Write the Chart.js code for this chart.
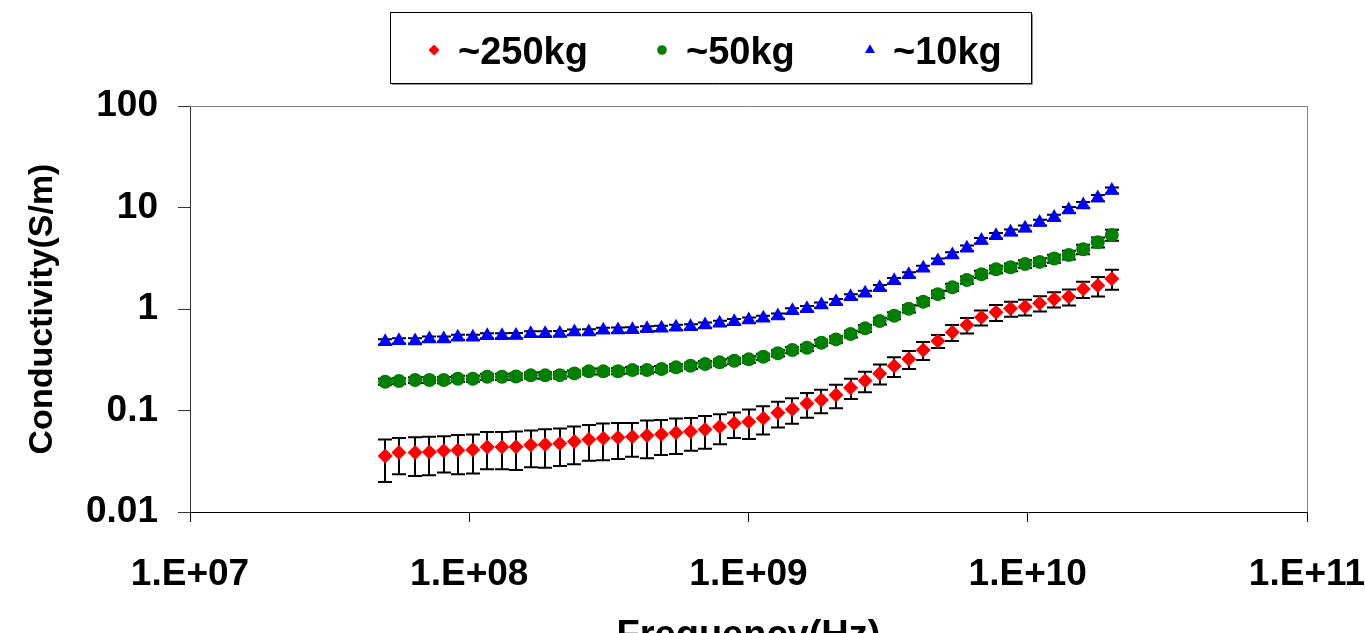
<!DOCTYPE html>
<html>
<head>
<meta charset="utf-8">
<title>Conductivity vs frequency</title>
<script src="https://cdn.jsdelivr.net/npm/chart.js@4.4.0/dist/chart.umd.min.js"></script>
<style>
  html, body { margin: 0; padding: 0; background: #fff; overflow: hidden; }
  #wrap { position: relative; width: 1365px; height: 680px; }
</style>
</head>
<body>
<div id="wrap"><canvas id="chart"></canvas></div>
<script>
// frequency sweep, MHz
const frequenciesMHz = [50, 56, 64, 72, 81, 91, 103, 116, 131, 147, 166, 187, 211, 238, 268, 302, 341,
  384, 433, 488, 550, 620, 699, 788, 889, 1002, 1130, 1274, 1436, 1619, 1825, 2058, 2320, 2616,
  2949, 3324, 3748, 4225, 4764, 5371, 6055, 6826, 7696, 8677, 9782, 11028, 12433, 14017, 15803,
  17817, 20000];

// ~250kg
const cond250 = [0.0357, 0.0386, 0.0386, 0.0390, 0.0401, 0.0405, 0.0410, 0.0438, 0.0438, 0.0440,
  0.0456, 0.0463, 0.0474, 0.0496, 0.0519, 0.0534, 0.0543, 0.0551, 0.0568, 0.0585, 0.0603, 0.0622,
  0.0651, 0.0691, 0.0747, 0.0774, 0.0840, 0.0949, 0.103, 0.117, 0.127, 0.142, 0.168, 0.196, 0.232,
  0.274, 0.321, 0.394, 0.483, 0.589, 0.695, 0.828, 0.927, 1.01, 1.05, 1.14, 1.25, 1.32, 1.57, 1.70, 1.99];
const sd250 = [0.016, 0.015, 0.016, 0.016, 0.0156, 0.017, 0.017, 0.0175, 0.0175, 0.018, 0.018, 0.019,
  0.019, 0.020, 0.020, 0.021, 0.021, 0.020, 0.023, 0.022, 0.023, 0.022, 0.023, 0.0225, 0.021, 0.025,
  0.026, 0.027, 0.029, 0.032, 0.033, 0.037, 0.038, 0.045, 0.052, 0.060, 0.064, 0.079, 0.070, 0.106,
  0.12, 0.14, 0.165, 0.17, 0.185, 0.195, 0.215, 0.235, 0.285, 0.37, 0.44];

// ~50kg
const cond50 = [0.192, 0.195, 0.1995, 0.1995, 0.200, 0.2055, 0.2055, 0.215, 0.215, 0.216, 0.222, 0.222,
  0.223, 0.232, 0.243, 0.243, 0.244, 0.250, 0.250, 0.256, 0.266, 0.276, 0.287, 0.298, 0.309, 0.319,
  0.339, 0.366, 0.394, 0.415, 0.465, 0.502, 0.567, 0.645, 0.762, 0.859, 1.007, 1.18, 1.40, 1.64, 1.93,
  2.20, 2.46, 2.58, 2.78, 2.91, 3.14, 3.41, 3.88, 4.55, 5.37];
const sd50 = [0.013, 0.013, 0.013, 0.013, 0.014, 0.014, 0.014, 0.015, 0.015, 0.015, 0.015, 0.016, 0.016,
  0.016, 0.017, 0.017, 0.017, 0.018, 0.018, 0.018, 0.019, 0.020, 0.020, 0.021, 0.022, 0.023, 0.024,
  0.026, 0.028, 0.030, 0.034, 0.037, 0.043, 0.050, 0.060, 0.068, 0.082, 0.097, 0.115, 0.135, 0.16,
  0.18, 0.21, 0.22, 0.24, 0.26, 0.29, 0.33, 0.42, 0.52, 0.66];

// ~10kg
const cond10 = [0.476, 0.487, 0.485, 0.506, 0.506, 0.526, 0.526, 0.546, 0.546, 0.548, 0.571, 0.571,
  0.573, 0.593, 0.595, 0.617, 0.621, 0.623, 0.640, 0.645, 0.660, 0.669, 0.695, 0.723, 0.750, 0.779,
  0.809, 0.853, 0.962, 1.007, 1.095, 1.18, 1.32, 1.43, 1.62, 1.90, 2.17, 2.52, 2.97, 3.41, 3.97, 4.72,
  5.28, 5.71, 6.25, 7.10, 7.95, 9.46, 10.6, 12.4, 14.7];
const sd10 = [0.028, 0.029, 0.029, 0.030, 0.030, 0.031, 0.031, 0.032, 0.032, 0.032, 0.034, 0.034,
  0.034, 0.035, 0.035, 0.037, 0.037, 0.037, 0.038, 0.038, 0.039, 0.040, 0.041, 0.043, 0.045, 0.047,
  0.049, 0.052, 0.058, 0.061, 0.066, 0.072, 0.080, 0.087, 0.099, 0.116, 0.13, 0.15, 0.18, 0.21, 0.25,
  0.30, 0.34, 0.37, 0.41, 0.47, 0.53, 0.64, 0.72, 0.85, 1.0];

const seriesLabels = ['~250kg', '~50kg', '~10kg'];
const xTickValues = [1e7, 1e8, 1e9, 1e10, 1e11];
const xTickLabels = ['1.E+07', '1.E+08', '1.E+09', '1.E+10', '1.E+11'];
const yTickValues = [0.01, 0.1, 1, 10, 100];
const yTickLabels = ['0.01', '0.1', '1', '10', '100'];

const FONT = "'Liberation Sans', Arial, sans-serif";

function toPoints(values) {
  return frequenciesMHz.map((f, i) => ({ x: f * 1e6, y: values[i] }));
}

const errorSets = [sd250, sd50, sd10];

// vertical error bars with caps, drawn under the markers
const errorBars = {
  id: 'errorBars',
  beforeDatasetsDraw(chart) {
    const { ctx, scales: { x, y } } = chart;
    ctx.save();
    ctx.strokeStyle = '#000';
    ctx.lineWidth = 2;
    chart.data.datasets.forEach((ds, d) => {
      const errs = errorSets[d];
      ds.data.forEach((p, i) => {
        const px = Math.round(x.getPixelForValue(p.x));
        const top = y.getPixelForValue(p.y + errs[i]);
        const bot = y.getPixelForValue(p.y - errs[i]);
        ctx.beginPath();
        ctx.moveTo(px, top);
        ctx.lineTo(px, bot);
        ctx.moveTo(px - 7, top);
        ctx.lineTo(px + 7, top);
        ctx.moveTo(px - 7, bot);
        ctx.lineTo(px + 7, bot);
        ctx.stroke();
      });
    });
    ctx.restore();
  }
};

// grey top and right frame of the plot area
const plotFrame = {
  id: 'plotFrame',
  beforeDatasetsDraw(chart) {
    const { ctx, chartArea: a } = chart;
    ctx.save();
    ctx.strokeStyle = '#808080';
    ctx.lineWidth = 1;
    ctx.beginPath();
    ctx.moveTo(a.left, a.top + 0.5);
    ctx.lineTo(a.right + 0.5, a.top + 0.5);
    ctx.lineTo(a.right + 0.5, a.bottom);
    ctx.stroke();
    ctx.restore();
  }
};

function drawMarker(ctx, style, x, y, r, color) {
  ctx.fillStyle = color;
  ctx.beginPath();
  if (style === 'circle') {
    ctx.arc(x, y, r, 0, Math.PI * 2);
  } else if (style === 'rectRot') {
    ctx.moveTo(x, y - r);
    ctx.lineTo(x + r, y);
    ctx.lineTo(x, y + r);
    ctx.lineTo(x - r, y);
  } else {
    ctx.moveTo(x, y - r);
    ctx.lineTo(x + r * 0.866, y + r / 2);
    ctx.lineTo(x - r * 0.866, y + r / 2);
  }
  ctx.closePath();
  ctx.fill();
}

// boxed legend above the plot
const boxLegend = {
  id: 'boxLegend',
  afterDraw(chart) {
    const ctx = chart.ctx;
    ctx.save();
    ctx.strokeStyle = '#000';
    ctx.lineWidth = 1;
    ctx.strokeRect(390.5, 12.5, 641, 71);
    ctx.strokeStyle = '#909090';
    ctx.beginPath();
    ctx.moveTo(392, 84.5);
    ctx.lineTo(1032.5, 84.5);
    ctx.lineTo(1032.5, 14);
    ctx.stroke();
    const markX = [434, 662, 870];
    const markR = [5.5, 4.8, 5.8];
    const textX = [458, 686, 893];
    ctx.font = 'bold 38px ' + FONT;
    ctx.textBaseline = 'alphabetic';
    chart.data.datasets.forEach((ds, i) => {
      drawMarker(ctx, ds.pointStyle, markX[i], 50, markR[i], ds.backgroundColor);
      ctx.fillStyle = '#000';
      ctx.fillText(ds.label, textX[i], 64);
    });
    ctx.restore();
  }
};

new Chart(document.getElementById('chart'), {
  type: 'scatter',
  data: {
    datasets: [
      {
        label: seriesLabels[0],
        data: toPoints(cond250),
        pointStyle: 'rectRot',
        pointRadius: 7.5,
        backgroundColor: '#ff0000',
        borderColor: '#ff0000',
        borderWidth: 0
      },
      {
        label: seriesLabels[1],
        data: toPoints(cond50),
        pointStyle: 'circle',
        pointRadius: 7,
        backgroundColor: '#008000',
        borderColor: '#008000',
        borderWidth: 0
      },
      {
        label: seriesLabels[2],
        data: toPoints(cond10),
        pointStyle: 'triangle',
        pointRadius: 8.5,
        backgroundColor: '#0000ff',
        borderColor: '#0000ff',
        borderWidth: 0
      }
    ]
  },
  options: {
    responsive: true,
    maintainAspectRatio: false,
    animation: false,
    events: [],
    layout: { padding: { top: 106, right: 58, bottom: 0, left: 0 } },
    plugins: {
      legend: { display: false },
      tooltip: { enabled: false }
    },
    scales: {
      x: {
        type: 'logarithmic',
        min: 1e7,
        max: 1e11,
        afterBuildTicks: (s) => { s.ticks = xTickValues.map(v => ({ value: v })); },
        afterFit: (s) => { s.height = 168; s.paddingLeft = 0; s.paddingRight = 0; },
        ticks: {
          callback: (v, i) => xTickLabels[i],
          autoSkip: false,
          maxRotation: 0,
          padding: 31,
          color: '#000',
          font: { family: FONT, size: 37, weight: 'bold' }
        },
        grid: { drawOnChartArea: false, tickLength: 10, tickColor: '#000', color: '#000' },
        border: { color: '#000', width: 1 },
        title: {
          display: true,
          text: 'Frequency(Hz)',
          color: '#000',
          padding: { top: 0, bottom: 21 },
          font: { family: FONT, size: 38, weight: 'bold' }
        }
      },
      y: {
        type: 'logarithmic',
        min: 0.01,
        max: 100,
        afterBuildTicks: (s) => { s.ticks = yTickValues.map(v => ({ value: v })); },
        afterFit: (s) => { s.width = 190; s.paddingTop = 0; s.paddingBottom = 0; },
        ticks: {
          callback: (v, i) => yTickLabels[i],
          autoSkip: false,
          padding: 20,
          color: '#000',
          font: { family: FONT, size: 37, weight: 'bold' }
        },
        grid: { drawOnChartArea: false, tickLength: 12, tickColor: '#333', color: '#333' },
        border: { color: '#333', width: 1 },
        title: {
          display: true,
          text: 'Conductivity(S/m)',
          color: '#000',
          padding: { top: 22, bottom: 0 },
          font: { family: FONT, size: 34, weight: 'bold' }
        }
      }
    }
  },
  plugins: [plotFrame, errorBars, boxLegend]
});
</script>
</body>
</html>
